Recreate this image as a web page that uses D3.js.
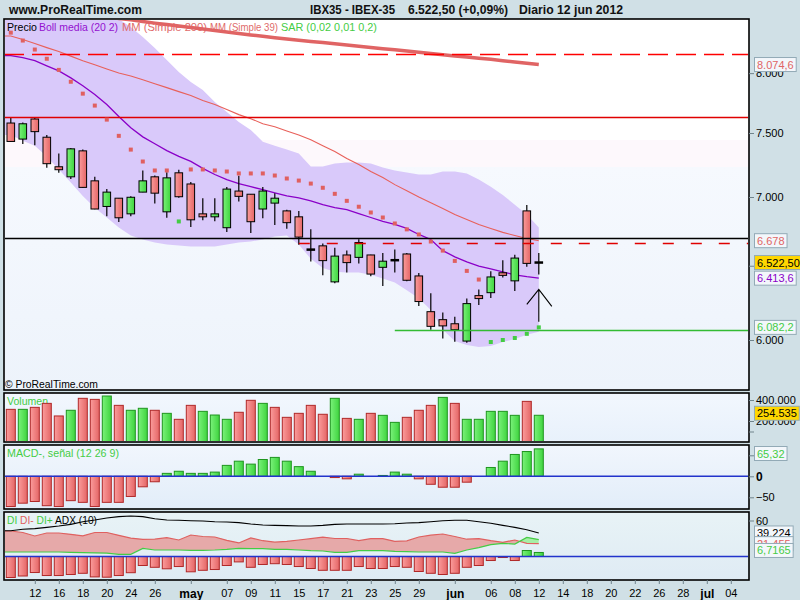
<!DOCTYPE html>
<html><head><meta charset="utf-8">
<script src="https://cdn.jsdelivr.net/npm/d3@7/dist/d3.min.js"></script>
<style>
body{margin:0;background:#d0e0e6;}
svg{display:block;font-family:"Liberation Sans",Arial,sans-serif;}
</style></head><body><svg id="c" width="800" height="600"></svg>
<script>
// ---------------- DATA ----------------
const dates = ["2012-04-10","2012-04-11","2012-04-12","2012-04-13","2012-04-16","2012-04-17","2012-04-18","2012-04-19","2012-04-20","2012-04-23","2012-04-24","2012-04-25","2012-04-26","2012-04-27","2012-04-30",
"2012-05-02","2012-05-03","2012-05-04","2012-05-07","2012-05-08","2012-05-09","2012-05-10","2012-05-11","2012-05-14","2012-05-15","2012-05-16","2012-05-17","2012-05-18","2012-05-21","2012-05-22","2012-05-23","2012-05-24","2012-05-25","2012-05-28","2012-05-29","2012-05-30","2012-05-31",
"2012-06-01","2012-06-04","2012-06-05","2012-06-06","2012-06-07","2012-06-08","2012-06-11","2012-06-12"];
const futureDates = ["2012-06-13","2012-06-14","2012-06-15","2012-06-18","2012-06-19","2012-06-20","2012-06-21","2012-06-22","2012-06-25","2012-06-26","2012-06-27","2012-06-28","2012-06-29","2012-07-02","2012-07-03","2012-07-04"];

const open  = [7581,7451,7614,7466,7232,7154,7357,7123,6929,6991,6874,7037,7154,6889,7185,7099,6874,6852,6772,7045,7021,6910,6954,6896,6852,6614,6641,6388,6576,6559,6576,6489,6539,6583,6429,6186,6133,6106,5993,6294,6314,6451,6395,6896,6522.5];
const high  = [7631,7586,7631,7484,7336,7380,7367,7154,7060,6993,7005,7203,7164,7190,7209,7115,6991,6991,7076,7162,7022,7076,7029,6905,6896,6760,6658,6627,6607,6689,6578,6590,6614,6590,6449,6310,6180,6153,6274,6336,6462,6539,6578,6940,6590];
const low   = [7428,7412,7401,7224,7185,7138,7070,6908,6857,6813,6857,7035,6951,6845,6995,6777,6827,6820,6740,6966,6733,6842,6791,6765,6648,6529,6433,6379,6453,6515,6426,6359,6453,6392,6224,6067,6009,5989,5982,6231,6278,6419,6325,6493,6439];
const close = [7432,7575,7511,7256,7209,7373,7073,6910,7037,6845,6998,7123,7029,7146,7002,6830,6852,6874,7060,7005,6816,7045,6991,6809,6704,6614,6536,6568,6522,6665,6442,6532,6539,6399,6254,6089,6092,6067,6240,6274,6422,6433,6554,6516.6,6522.5];

const volume = [311000,311000,330000,368000,248000,302000,416000,406000,438000,349000,302000,321000,302000,273000,216000,349000,292000,257000,216000,283000,397000,368000,330000,235000,273000,349000,264000,416000,225000,216000,273000,254000,187000,235000,302000,349000,425000,368000,216000,216000,292000,292000,254000,387000,254535];

const bollUpper = [8950,8900,8850,8800,8750,8700,8650,8600,8540,8480,8408,8318,8220,8114,8010,7924,7856,7755,7672,7589,7525,7430,7398,7367,7336,7234,7234,7258,7266,7266,7258,7227,7203,7188,7172,7172,7195,7195,7180,7133,7078,7016,6942,6869,6774];
const bollLower = [7484,7438,7398,7313,7211,7110,7008,6920,6847,6774,6716,6687,6665,6651,6643,6636,6636,6636,6651,6665,6672,6687,6709,6716,6651,6549,6485,6458,6452,6452,6438,6411,6384,6330,6277,6197,6067,5993,5968,5955,5961,5987,6007,6034,6054];
const bollMid = [8152,8134,8108,8063,8019,7959,7892,7817,7734,7634,7542,7469,7414,7359,7313,7274,7219,7172,7133,7102,7078,7055,7031,7008,6993,6971,6942,6920,6905,6876,6847,6818,6796,6767,6723,6687,6607,6563,6527,6498,6478,6457,6437,6424,6413.6];
const mm39 = [8327,8295,8259,8223,8188,8148,8108,8072,8036,8001,7976,7943,7909,7876,7842,7809,7767,7734,7692,7650,7617,7575,7550,7517,7484,7445,7398,7352,7297,7250,7195,7149,7094,7047,7000,6956,6913,6869,6833,6796,6767,6738,6716,6694,6678];
const mm200 = [8620,8605,8590,8570,8553,8540,8526,8513,8500,8486,8473,8458,8443,8430,8416,8403,8390,8376,8363,8350,8336,8324,8312,8300,8289,8278,8268,8257,8246,8236,8225,8214,8204,8193,8183,8172,8161,8150,8140,8130,8120,8108,8096,8085,8074.6];
const sar = [8357,8286,8206,8125,8028,7926,7825,7725,7609,7477,7367,7273,7203,7203,6818,7211,7211,7203,7195,7180,7180,7180,7164,7141,7125,7102,7070,7024,6971,6927,6884,6847,6803,6760,6723,6672,6607,6534,6464,6404,5987,6000,6013,6040,6082.2];

const macdHist = [-72,-64,-60,-70,-72,-58,-62,-72,-62,-62,-48,-25,-13,7,12,7,7,10,26,36,29,40,45,36,23,12,0,-3,-6,5,0,2,10,5,-6,-19,-26,-26,-14,0,21,36,52,59,65.32];

const diPlus  = [7.5,7.5,7.5,7.5,7.5,7,6.5,6,5.5,3.6,3.6,13.6,10.8,10.8,10.8,10.3,10.3,10.8,11.9,13.6,13,13,11.9,11.9,10.8,9.7,9.2,7,7,9.7,9.7,9.7,8.6,8,7.5,7.5,7.5,5.3,10.8,14.7,19.7,21.9,20.8,31.9,28.17];
const diMinus = [42.5,40,34.2,39.2,39.2,37,34.5,40,40,35.3,30.6,28.6,28.8,31.3,27.5,35.8,33.3,32.5,26.9,22.6,31,26.3,23.9,25.2,27.5,29.7,32.2,30,30,26.4,29.7,29.7,25.3,26,32.5,35.5,37.5,33.3,28.8,29.7,26.4,23.6,27.5,21.9,21.455];
const adx     = [43,45.3,46.4,48.6,50.8,53.6,58,60.8,64.2,66.4,67.5,66.4,63,60.8,60.3,59.7,59.2,58,57.5,56.4,54.2,52.5,51.9,51.4,50.8,50.8,51.9,53.6,54.2,54.2,54.2,54.2,54.7,55.8,56.4,58,59.7,60.3,60.3,58,55.3,51.9,48.6,44.7,39.224];
const diHist  = [-35,-32.5,-26.7,-31.7,-31.7,-30,-28,-34,-34.5,-31.7,-27,-15,-18,-20.5,-16.7,-25.5,-23,-21.7,-15,-9,-18,-13.3,-12,-13.3,-16.7,-20,-23,-23,-23,-16.7,-20,-20,-16.7,-18,-25,-28,-30,-28,-18,-15,-6.7,-1.7,-6.7,10,6.7165];

const hLineValues = [8164, 7628, 6695, 6659, 6065];
const hLineStarts = [null, null, null, "2012-05-15", "2012-05-25"];
const arrowFrom = 6119, arrowTo = 6337;

const priceTicks = [8000, 7500, 7000, 6500, 6000];
const volumeTicks = [400000, 200000, 100000];
const volumeTickLabels = ["400.000", "200.000", ""];
const macdTicks = [50, 0, -50];
const diTicks = [60];

const axisTickDates = ["2012-04-12","2012-04-16","2012-04-18","2012-04-20","2012-04-24","2012-04-26","2012-05-02","2012-05-07","2012-05-09","2012-05-11","2012-05-15","2012-05-17","2012-05-21","2012-05-23","2012-05-25","2012-05-29","2012-06-01","2012-06-06","2012-06-08","2012-06-12","2012-06-14","2012-06-18","2012-06-20","2012-06-22","2012-06-26","2012-06-28","2012-07-02","2012-07-04"];
const axisTickLabels = ["12","16","18","20","24","26","may","07","09","11","15","17","21","23","25","29","jun","06","08","12","14","18","20","22","26","28","jul","04"];
const monthLabels = ["may","jun","jul"];

// ---------------- LAYOUT ----------------
const svg = d3.select("#c");
const L = 4, R = 749;
const P = {top:19, bottom:390}, V = {top:393, bottom:442}, M = {top:445, bottom:509}, D = {top:512, bottom:580};
const loc = d3.formatLocale({decimal:",", thousands:".", grouping:[3], currency:["",""]});
const f0 = loc.format(",.0f"), f1 = loc.format(",.1f"), f2 = loc.format(",.2f"), f3 = loc.format(",.3f"), f4 = loc.format(",.4f");

const allDates = dates.concat(futureDates);
const x = d3.scalePoint().domain(allDates).range([10.8, 10.8 + 12*(allDates.length-1)]);
const yP = d3.scaleLog().domain([7500, 6000]).range([133, 340]);
const yV = d3.scaleLinear().domain([0, 400000]).range([442, 400]);
const yM = d3.scaleLinear().domain([0, -50]).range([476.3, 497.3]);
const yD = d3.scaleLinear().domain([0, 60]).range([556.5, 520.5]);

const defs = svg.append("defs");
function grad(id, stops, vertical){
  const g = defs.append("linearGradient").attr("id", id).attr("x1",0).attr("y1",0).attr("x2", vertical?0:1).attr("y2", vertical?1:0);
  stops.forEach(s => g.append("stop").attr("offset", s[0]).attr("stop-color", s[1]));
}
grad("gRed", [[0,"#fb9c9c"],[1,"#e46666"]]);
grad("gGreen", [[0,"#7af27a"],[1,"#3fd43f"]]);
grad("bgPrice", [[0,"#ffffff"],[0.325,"#ffffff"],[0.326,"#fdf8fc"],[0.398,"#fdf8fc"],[0.399,"#f6f9fe"],[1,"#edf3fb"]], true);
grad("bgVol", [[0,"#f2f7fe"],[1,"#e8f1fb"]], true);
grad("bgMacd", [[0,"#f1f6fd"],[1,"#e2edf9"]], true);
grad("bgDi", [[0,"#e8f3f6"],[1,"#dfebf4"]], true);
function clip(id, p){ defs.append("clipPath").attr("id", id).append("rect").attr("x", L+1).attr("y", p.top+1).attr("width", R-L-2).attr("height", p.bottom-p.top-2); }
clip("cP", P); clip("cV", V); clip("cM", M); clip("cD", D);

// panel backgrounds
[[P,"bgPrice"],[V,"bgVol"],[M,"bgMacd"],[D,"bgDi"]].forEach(([p,g]) =>
  svg.append("rect").attr("x", L).attr("y", p.top).attr("width", R-L).attr("height", p.bottom-p.top).attr("fill", `url(#${g})`));

// header
function txt(g, s, xx, yy, size, color, opts={}){
  const t = g.append("text").attr("x", xx).attr("y", yy).attr("font-size", size).attr("fill", color).text(s);
  if (opts.bold) t.attr("font-weight", "bold");
  if (opts.len) t.attr("textLength", opts.len).attr("lengthAdjust", "spacingAndGlyphs");
  if (opts.anchor) t.attr("text-anchor", opts.anchor);
  return t;
}
txt(svg, "www.ProRealTime.com", 9, 14, 12, "#111", {bold:true, len:133});
txt(svg, "IBX35 - IBEX-35", 310, 14, 12, "#111", {bold:true, len:85});
txt(svg, "6.522,50 (+0,09%)", 408, 14, 12, "#111", {bold:true, len:100});
txt(svg, "Diario  12 jun 2012", 519, 14, 12, "#111", {bold:true, len:104});

// ---------------- PRICE PANEL ----------------
const gp = svg.append("g").attr("clip-path", "url(#cP)");
const xi = i => x(dates[i]);
const ext = (arr, sc) => [[L, sc(arr[0])]].concat(arr.map((v,i) => [xi(i), sc(v)]));

const bandPts = [[L, yP(bollUpper[0]), yP(bollLower[0])]].concat(dates.map((d,i) => [xi(i), yP(bollUpper[i]), yP(bollLower[i])]));
gp.append("path").attr("d", d3.area().x(d=>d[0]).y0(d=>d[2]).y1(d=>d[1])(bandPts)).attr("fill", "#d9c9fa");

// legend
const lg = svg.append("g");
txt(lg, "Precio", 7, 31, 11, "#000", {len:30});
txt(lg, "Boll media (20 2)", 39, 31, 11, "#9410d0", {len:79});
txt(lg, "MM (Simple 200)", 122, 31, 11, "#e06a6a", {len:85});
txt(lg, "MM (Simple 39)", 210, 31, 11, "#e06a6a", {len:68});
txt(lg, "SAR (0,02 0,01 0,2)", 281, 31, 11, "#44cc44", {len:96});
txt(svg, "\u00a9 ProRealTime.com", 5, 388, 11, "#000", {len:93});

const gp2 = svg.append("g").attr("clip-path", "url(#cP)");
const line = d3.line();
gp2.append("path").attr("d", line(ext(mm200, yP))).attr("fill","none").attr("stroke","#e06464").attr("stroke-width",3.5);
gp2.append("path").attr("d", line(ext(mm39, yP))).attr("fill","none").attr("stroke","#e8605a").attr("stroke-width",1.1);
gp2.append("path").attr("d", line(ext(bollMid, yP))).attr("fill","none").attr("stroke","#8a00c8").attr("stroke-width",1.3);

// candles
dates.forEach((d,i) => {
  const cx = xi(i), o = open[i], c = close[i];
  gp2.append("line").attr("x1", cx).attr("x2", cx).attr("y1", yP(high[i])).attr("y2", yP(low[i])).attr("stroke","#000").attr("stroke-width",1.2);
  if (o === c) {
    gp2.append("line").attr("x1", cx-4.3).attr("x2", cx+4.3).attr("y1", yP(c)).attr("y2", yP(c)).attr("stroke","#000").attr("stroke-width",2.5);
  } else {
    const top = yP(Math.max(o,c)), bot = yP(Math.min(o,c));
    gp2.append("rect").attr("x", cx-3.8).attr("y", top).attr("width", 7.6).attr("height", Math.max(1, bot-top))
      .attr("fill", c > o ? "url(#gGreen)" : "url(#gRed)").attr("stroke","#000").attr("stroke-width",1);
  }
});

// horizontal lines
const hStyles = [{c:"#ff0000", dash:"20,8", w:1.3},{c:"#e00000", dash:null, w:1.3},{c:"#000", dash:null, w:1.3},{c:"#e00000", dash:"11,17", w:1.3},{c:"#33bb33", dash:null, w:1.3}];
hLineValues.forEach((v,k) => {
  const st = hStyles[k];
  const x0 = hLineStarts[k] ? x(hLineStarts[k]) : L;
  const ln = gp2.append("line").attr("x1", x0).attr("x2", R).attr("y1", Math.round(yP(v))+0.5).attr("y2", Math.round(yP(v))+0.5)
    .attr("stroke", st.c).attr("stroke-width", st.w);
  if (st.dash) ln.attr("stroke-dasharray", st.dash);
});

// SAR
dates.forEach((d,i) => {
  const up = sar[i] < low[i];
  gp2.append("rect").attr("x", xi(i)-2).attr("y", yP(sar[i])-2).attr("width",4).attr("height",4).attr("fill", up ? "#44cc44" : "#e06060");
});

// arrow
const ax = xi(dates.length-1), ay0 = yP(arrowFrom), ay1 = yP(arrowTo);
gp2.append("path").attr("d", `M${ax},${ay0}L${ax},${ay1}M${ax-12},${ay1+15}L${ax},${ay1}L${ax+13},${ay1+17}`).attr("fill","none").attr("stroke","#000").attr("stroke-width",1.1);

// ---------------- VOLUME ----------------
const gv = svg.append("g").attr("clip-path", "url(#cV)");
txt(gv, "Volumen", 7, 405, 11, "#44cc44", {len:41});
dates.forEach((d,i) => {
  const up = i === 0 ? close[i] > open[i] : close[i] > close[i-1];
  gv.append("rect").attr("x", xi(i)-4.5).attr("y", yV(volume[i])).attr("width", 9).attr("height", yV(0)-yV(volume[i]))
    .attr("fill", up ? "url(#gGreen)" : "url(#gRed)").attr("stroke", up ? "#1f951f" : "#b02828").attr("stroke-width",1);
});

// ---------------- MACD ----------------
const gm = svg.append("g").attr("clip-path", "url(#cM)");
txt(gm, "MACD-, se\u00f1al (12 26 9)", 7, 457, 11, "#44cc44", {len:112});
dates.forEach((d,i) => {
  const v = macdHist[i];
  if (Math.abs(v) < 0.5) return;
  const y0 = yM(0), y1 = yM(v);
  gm.append("rect").attr("x", xi(i)-4.5).attr("y", Math.min(y0,y1)).attr("width", 9).attr("height", Math.abs(y1-y0))
    .attr("fill", v > 0 ? "url(#gGreen)" : "url(#gRed)").attr("stroke", v > 0 ? "#1f951f" : "#b02828").attr("stroke-width",1);
});
gm.append("line").attr("x1", L).attr("x2", R).attr("y1", yM(0)).attr("y2", yM(0)).attr("stroke","#2233cc").attr("stroke-width",1.6);

// ---------------- DI / ADX ----------------
const gd = svg.append("g").attr("clip-path", "url(#cD)");
const tDI = gd.append("text").attr("x", 7).attr("y", 524).attr("font-size", 11);
tDI.append("tspan").attr("fill","#44cc44").text("DI ");
tDI.append("tspan").attr("fill","#e06060").text("DI- ");
tDI.append("tspan").attr("fill","#44cc44").text("DI+ ");
tDI.append("tspan").attr("fill","#000").text("ADX (10)");
tDI.attr("textLength", 90).attr("lengthAdjust","spacingAndGlyphs");

dates.forEach((d,i) => {
  const v = diHist[i];
  const y0 = yD(0), y1 = yD(v);
  gd.append("rect").attr("x", xi(i)-4.5).attr("y", Math.min(y0,y1)).attr("width", 9).attr("height", Math.abs(y1-y0))
    .attr("fill", v > 0 ? "url(#gGreen)" : "url(#gRed)").attr("stroke", v > 0 ? "#1f951f" : "#b02828").attr("stroke-width",1);
});
const diPts = [[L, yD(diPlus[0]), yD(diMinus[0])]].concat(dates.map((d,i) => [xi(i), yD(diPlus[i]), yD(diMinus[i])]));
defs.append("clipPath").attr("id","abovePlus").append("path").attr("d", d3.area().x(d=>d[0]).y0(D.top).y1(d=>d[1])(diPts));
defs.append("clipPath").attr("id","aboveMinus").append("path").attr("d", d3.area().x(d=>d[0]).y0(D.top).y1(d=>d[2])(diPts));
const between = d3.area().x(d=>d[0]).y0(d=>d[1]).y1(d=>d[2])(diPts);
gd.append("g").attr("clip-path","url(#abovePlus)").append("path").attr("d", between).attr("fill","#e6a9a9");
gd.append("g").attr("clip-path","url(#aboveMinus)").append("path").attr("d", between).attr("fill","#a6eea6");
gd.append("path").attr("d", line(diPts.map(d=>[d[0],d[2]]))).attr("fill","none").attr("stroke","#e06060").attr("stroke-width",1.2);
gd.append("path").attr("d", line(diPts.map(d=>[d[0],d[1]]))).attr("fill","none").attr("stroke","#44cc44").attr("stroke-width",1.2);
gd.append("path").attr("d", line(ext(adx, yD))).attr("fill","none").attr("stroke","#000").attr("stroke-width",1.1);
gd.append("line").attr("x1", L).attr("x2", R).attr("y1", yD(0)).attr("y2", yD(0)).attr("stroke","#2233cc").attr("stroke-width",1.6);

// ---------------- FRAMES ----------------
[P,V,M,D].forEach(p => svg.append("rect").attr("x", L).attr("y", p.top).attr("width", R-L).attr("height", p.bottom-p.top)
  .attr("fill","none").attr("stroke","#000").attr("stroke-width",1.6));

// ---------------- AXES ----------------
function styleAxis(g){
  g.select(".domain").remove();
  g.selectAll(".tick line").attr("stroke","#70848c");
  g.selectAll(".tick text").attr("fill","#000").attr("font-size",11).attr("font-family","Liberation Sans, Arial, sans-serif");
}
const axP = svg.append("g").attr("transform", `translate(${R},0)`).call(d3.axisRight(yP).tickValues(priceTicks).tickFormat(f0).tickSize(5).tickPadding(2));
styleAxis(axP);
const axV = svg.append("g").attr("transform", `translate(${R},0)`).call(d3.axisRight(yV).tickValues(volumeTicks).tickFormat((d,i)=>volumeTickLabels[i]).tickSize(5).tickPadding(2));
styleAxis(axV);
const axM = svg.append("g").attr("transform", `translate(${R},0)`).call(d3.axisRight(yM).tickValues(macdTicks).tickFormat(f0).tickSize(5).tickPadding(2));
styleAxis(axM);
axM.selectAll(".tick text").filter(d => d === 0).attr("font-weight","bold").attr("font-size",12);
const axD = svg.append("g").attr("transform", `translate(${R},0)`).call(d3.axisRight(yD).tickValues(diTicks).tickFormat(f0).tickSize(5).tickPadding(2));
styleAxis(axD);

const axX = svg.append("g").attr("transform", `translate(0,${D.bottom})`).call(d3.axisBottom(x).tickValues(axisTickDates).tickFormat((d,i)=>axisTickLabels[i]).tickSize(4).tickPadding(3));
styleAxis(axX);
axX.selectAll(".tick text").attr("dy","0.9em").filter((d,i) => monthLabels.includes(axisTickLabels[i])).attr("font-weight","bold").attr("font-size",12);

// ---------------- VALUE LABELS ----------------
function vlabel(yc, s, color, fill, p){
  const g = svg.append("g");
  const t = g.append("text").attr("x", 757).attr("font-size", 11).attr("fill", color).text(s);
  const w = t.node().getComputedTextLength();
  let top = yc - 7;
  top = Math.max(p.top + 1.5, Math.min(p.bottom - 15.5, top));
  g.insert("rect","text").attr("x", 754.5).attr("y", top).attr("width", w + 5).attr("height", 14).attr("fill", fill).attr("stroke", "#92aab6").attr("stroke-width",1);
  t.attr("y", top + 11);
}
const n = dates.length - 1;
vlabel(yP(mm200[n]), f1(mm200[n]), "#e06464", "#f3f7fb", P);
vlabel(yP(mm39[n]), f0(mm39[n]), "#e06464", "#f3f7fb", P);
vlabel(yP(close[n]), f2(close[n]), "#000", "#ffd700", P);
vlabel(yP(bollMid[n]), f1(bollMid[n]), "#8a00c8", "#f3f7fb", P);
vlabel(yP(sar[n]), f1(sar[n]), "#44cc44", "#f3f7fb", P);
vlabel(yV(volume[n]) - 2, f0(volume[n]), "#000", "#ffd700", V);
vlabel(yM(macdHist[n]), f2(macdHist[n]), "#44cc44", "#f3f7fb", M);
vlabel(yD(adx[n]), f3(adx[n]), "#000", "#f3f7fb", D);
vlabel(yD(diMinus[n]), f3(diMinus[n]), "#e06060", "#f3f7fb", D);
vlabel(yD(diHist[n]) - 2, f4(diHist[n]), "#44cc44", "#f3f7fb", D);
</script></body></html>
